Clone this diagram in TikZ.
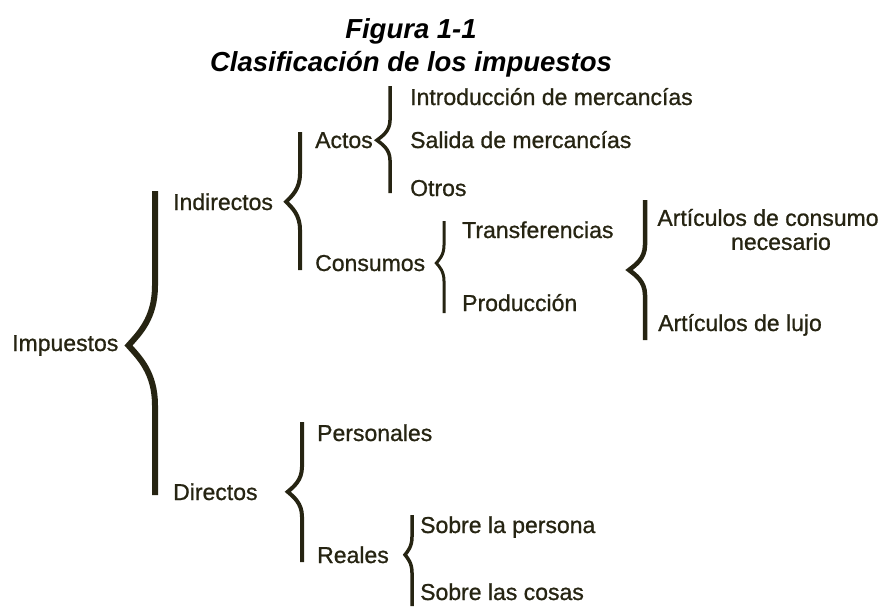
\documentclass[tikz,border=0pt]{standalone}
\usepackage{fontspec}
\setmainfont{Liberation Sans}
\newfontfamily\gruesa{Liberation Sans}[FakeBold=0.9]
\usepackage{tikz}
\usetikzlibrary{calc}
\definecolor{tinta}{RGB}{38,36,18}

% llave: [opciones]{punta}{extremo superior}{extremo inferior}{largo de la curva}
\newcommand{\llave}[5][]{%
  \draw[llave,#1] let \p1=(#2), \p2=(#3), \p3=(#4) in
    (\p2) -- (\x2,\y1+#5)
    .. controls (\x2,\y1+0.45*#5) and (0.6*\x1+0.4*\x2,\y1+0.2*#5) .. (\p1)
    .. controls (0.6*\x1+0.4*\x2,\y1-0.2*#5) and (\x2,\y1-0.45*#5) .. (\x2,\y1-#5)
    -- (\p3);}

\begin{document}
\begin{tikzpicture}[
            x=1pt, y=-1pt,
            texto/.style={anchor=base west, inner sep=0pt, text=tinta, font=\gruesa\fontsize{23}{24}\selectfont}, % ramas
            llave/.style={draw=tinta, line join=miter, miter limit=4} % llaves
            ]
        \useasboundingbox (0,0) rectangle (885,610);

        % titulo
        \node[align=center, inner sep=0pt, font=\fontsize{27.5}{33}\selectfont\bfseries\itshape] (titulo) at (411,48)
            {Figura 1-1\\Clasificación de los impuestos};

        % ramas
        \node[texto] (imp) at (12,351) {Impuestos};
        \node[texto] (indir) at (173,210) {Indirectos};
        \node[texto] (dir) at (173,500) {Directos};
        \node[texto] (actos) at (315,148) {Actos};
        \node[texto] (consumos) at (315,271) {Consumos};
        \node[texto] (intro) at (410,105) {Introducción de mercancías};
        \node[texto] (salida) at (410,148) {Salida de mercancías};
        \node[texto] (otros) at (410,196) {Otros};
        \node[texto] (transf) at (462,238) {Transferencias};
        \node[texto] (prod) at (462,311) {Producción};
        \node[texto, anchor=center, align=center] (artcons) at (768,229.5)
            {Artículos de consumo\\\hspace*{26pt}necesario};
        \node[texto] (artlujo) at (658,331) {Artículos de lujo};
        \node[texto] (pers) at (317,441) {Personales};
        \node[texto] (reales) at (317,563) {Reales};
        \node[texto] (spers) at (420,533) {Sobre la persona};
        \node[texto] (scosas) at (420,600) {Sobre las cosas};

        % extremos de las llaves
        \coordinate (imp-sup) at (155,191);   \coordinate (imp-inf) at (155,495);
        \coordinate (indir-sup) at (300,132); \coordinate (indir-inf) at (300,270);
        \coordinate (actos-sup) at (390,86);  \coordinate (actos-inf) at (390,193);
        \coordinate (cons-sup) at (444,221);  \coordinate (cons-inf) at (444,313);
        \coordinate (art-punta) at (629,270);
        \coordinate (art-sup) at (645,200);   \coordinate (art-inf) at (645,340);
        \coordinate (dir-sup) at (302,422);   \coordinate (dir-inf) at (302,562);
        \coordinate (reales-sup) at (412,515); \coordinate (reales-inf) at (412,606);

        % llaves
        \llave[line width=6pt]{[xshift=10pt]imp.east}{imp-sup}{imp-inf}{60pt}
        \llave[line width=4pt]{[xshift=13pt]indir.east}{indir-sup}{indir-inf}{28pt}
        \llave[line width=3.5pt]{[xshift=4pt]actos.east}{actos-sup}{actos-inf}{20pt}
        \llave[line width=3pt]{[xshift=11pt]consumos.east}{cons-sup}{cons-inf}{18pt}
        \llave[line width=4.5pt]{art-punta}{art-sup}{art-inf}{25pt}
        \llave[line width=4pt]{[xshift=30pt]dir.east}{dir-sup}{dir-inf}{25pt}
        \llave[line width=3.5pt]{[xshift=16pt]reales.east}{reales-sup}{reales-inf}{18pt}

\end{tikzpicture}
\end{document}
